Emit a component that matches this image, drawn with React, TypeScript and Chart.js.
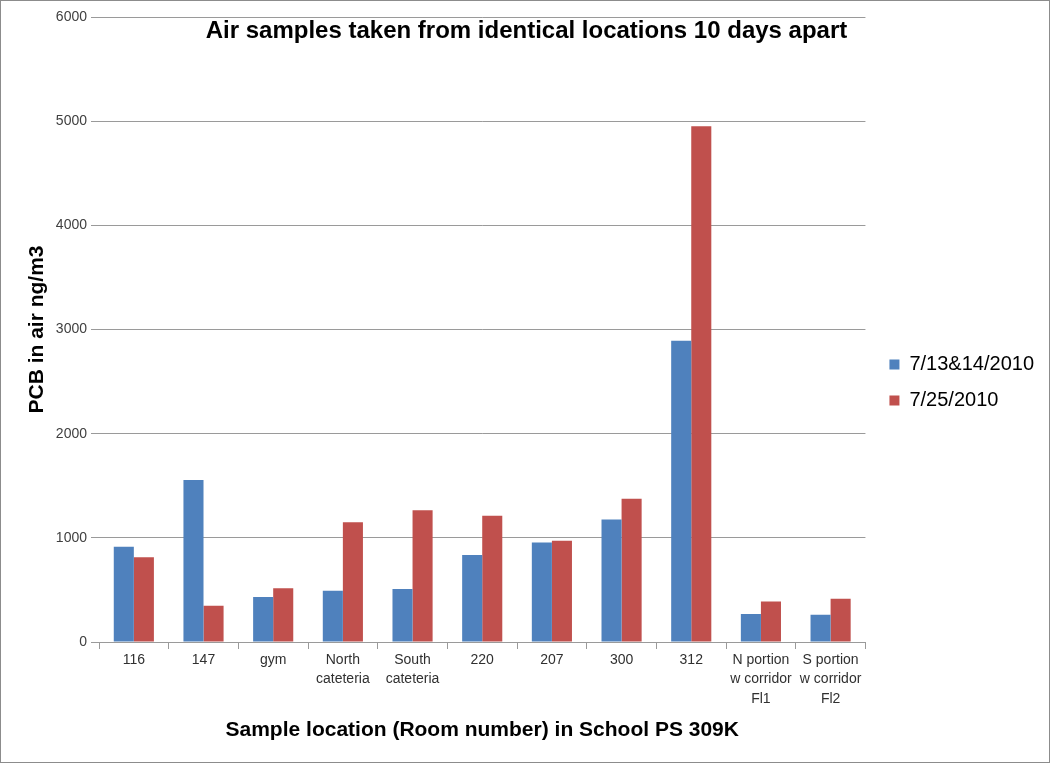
import React, { useEffect, useRef } from "react";
import { Chart, registerables } from "chart.js";

Chart.register(...registerables);

const categories: (string | string[])[] = [
  "116",
  "147",
  "gym",
  ["North", "cateteria"],
  ["South", "cateteria"],
  "220",
  "207",
  "300",
  "312",
  ["N portion", "w corridor", "Fl1"],
  ["S portion", "w corridor", "Fl2"],
];

const seriesJuly13_14 = [915, 1555, 432, 492, 509, 835, 955, 1175, 2892, 269, 262];
const seriesJuly25 = [813, 348, 515, 1149, 1264, 1211, 972, 1376, 4952, 390, 416];

const seriesNames = ["7/13&14/2010", "7/25/2010"];
const yTicks = [0, 1000, 2000, 3000, 4000, 5000, 6000];

const chartTitle = "Air samples taken from identical locations 10 days apart";
const xTitle = "Sample location (Room number) in School PS 309K";
const yTitle = "PCB in air ng/m3";

const FONT = '"Liberation Sans", Arial, sans-serif';

const titlePlugin = {
  id: "overlayTitle",
  afterDraw(chart: any) {
    const ctx = chart.ctx;
    ctx.save();
    ctx.font = `bold 24px ${FONT}`;
    ctx.fillStyle = "#000000";
    ctx.textAlign = "center";
    ctx.textBaseline = "alphabetic";
    ctx.fillText(chartTitle, 525.5, 37);
    ctx.restore();
  },
};

export default function App() {
  const canvasRef = useRef<HTMLCanvasElement | null>(null);

  useEffect(() => {
    if (!canvasRef.current) return;
    const chart = new Chart(canvasRef.current, {
      type: "bar",
      data: {
        labels: categories,
        datasets: [
          {
            label: seriesNames[0],
            data: seriesJuly13_14,
            backgroundColor: "#4F81BD",
            borderWidth: 0,
            categoryPercentage: 0.576,
            barPercentage: 1.0,
          },
          {
            label: seriesNames[1],
            data: seriesJuly25,
            backgroundColor: "#C0504D",
            borderWidth: 0,
            categoryPercentage: 0.576,
            barPercentage: 1.0,
          },
        ],
      },
      options: {
        responsive: false,
        animation: false,
        maintainAspectRatio: false,
        layout: { padding: { top: 16, right: 5, bottom: 14, left: 0 } },
        plugins: {
          title: { display: false },
          tooltip: { enabled: false },
          legend: {
            display: true,
            position: "right",
            align: "center",
            labels: {
              boxWidth: 10,
              boxHeight: 10,
              padding: 16,
              color: "#000000",
              font: { family: FONT, size: 20 },
            },
          },
        },
        scales: {
          x: {
            type: "category",
            grid: {
              display: true,
              drawOnChartArea: false,
              drawTicks: true,
              tickLength: 7,
              color: "#9a9a9a",
              offset: true,
            },
            border: { display: true, color: "#9a9a9a", width: 1 },
            ticks: {
              color: "#303030",
              padding: 1,
              maxRotation: 0,
              autoSkip: false,
              font: { family: FONT, size: 14, lineHeight: 1.39 },
            },
            title: {
              display: true,
              text: xTitle,
              color: "#000000",
              font: { family: FONT, size: 21, weight: "bold", lineHeight: 1.2 },
              padding: { top: 0, bottom: 5 },
            },
            afterFit: (scale: any) => {
              scale.height = 106;
            },
          },
          y: {
            type: "linear",
            min: 0,
            max: 6000,
            afterBuildTicks: (scale: any) => {
              scale.ticks = yTicks.map((v) => ({ value: v }));
            },
            grid: {
              display: true,
              drawOnChartArea: true,
              drawTicks: true,
              tickLength: 8,
              color: "#9a9a9a",
              lineWidth: 1,
            },
            border: { display: false },
            ticks: {
              color: "#404040",
              padding: 4,
              font: { family: FONT, size: 14 },
              callback: (value: any) => String(value),
            },
            title: {
              display: true,
              text: yTitle,
              color: "#000000",
              font: { family: FONT, size: 21, weight: "bold", lineHeight: 1.2 },
              padding: { top: 24, bottom: 0 },
            },
            afterFit: (scale: any) => {
              scale.width = 98;
            },
          },
          gap: {
            type: "linear",
            position: "right",
            display: true,
            grid: { display: false, drawTicks: false },
            border: { display: false },
            ticks: { display: false },
            afterFit: (scale: any) => {
              scale.width = 8;
            },
          },
        },
      },
      plugins: [titlePlugin],
    } as any);
    return () => chart.destroy();
  }, []);

  return (
    <div
      style={{
        position: "absolute",
        left: 0,
        top: 0,
        width: 1050,
        height: 763,
        boxSizing: "border-box",
        border: "1px solid #8c8c8c",
        background: "#ffffff",
      }}
    >
      <canvas
        ref={canvasRef}
        width={1048}
        height={761}
        style={{ display: "block", width: 1048, height: 761 }}
      />
    </div>
  );
}
